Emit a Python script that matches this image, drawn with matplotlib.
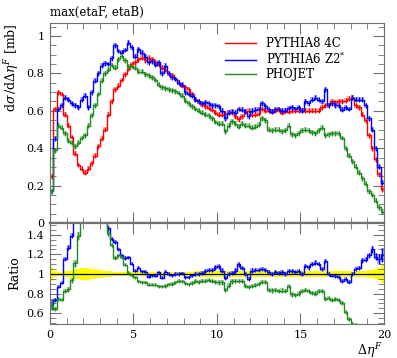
import matplotlib
matplotlib.use("Agg")
import matplotlib.pyplot as plt
import numpy as np
from matplotlib.ticker import MultipleLocator

# bin edges: 100 bins of width 0.2 from 0 to 20
edges = np.linspace(0, 20, 101)

pythia8 = [0.25, 0.61, 0.70, 0.69, 0.58, 0.52, 0.46, 0.37, 0.31, 0.29,
           0.27, 0.29, 0.32, 0.36, 0.41, 0.45, 0.50, 0.58, 0.65, 0.715,
           0.735, 0.765, 0.795, 0.825, 0.85, 0.86, 0.875, 0.885, 0.87, 0.885,
           0.875, 0.86, 0.845, 0.83, 0.82, 0.80, 0.79, 0.77, 0.75, 0.735,
           0.725, 0.715, 0.69, 0.66, 0.65, 0.635, 0.625, 0.615, 0.605, 0.59,
           0.58, 0.58, 0.585, 0.59, 0.59, 0.57, 0.555, 0.57, 0.595, 0.60,
           0.58, 0.58, 0.585, 0.61, 0.60, 0.60, 0.595, 0.60, 0.605, 0.59,
           0.60, 0.595, 0.60, 0.60, 0.60, 0.60, 0.60, 0.60, 0.60, 0.60,
           0.60, 0.62, 0.63, 0.63, 0.65, 0.645, 0.65, 0.65, 0.655, 0.665,
           0.67, 0.63, 0.62, 0.58, 0.55, 0.47, 0.40, 0.34, 0.26, 0.18]

pythia6 = [0.17, 0.45, 0.61, 0.63, 0.67, 0.66, 0.64, 0.63, 0.62, 0.66,
           0.68, 0.62, 0.70, 0.76, 0.80, 0.84, 0.855, 0.85, 0.88, 0.95,
           0.92, 0.91, 0.925, 0.965, 0.94, 0.89, 0.93, 0.91, 0.89, 0.86,
           0.865, 0.845, 0.86, 0.80, 0.84, 0.80, 0.78, 0.77, 0.75, 0.74,
           0.70, 0.69, 0.68, 0.66, 0.65, 0.64, 0.645, 0.64, 0.63, 0.63,
           0.625, 0.60, 0.56, 0.59, 0.595, 0.59, 0.61, 0.605, 0.595, 0.57,
           0.60, 0.605, 0.61, 0.64, 0.625, 0.61, 0.595, 0.61, 0.61, 0.60,
           0.60, 0.615, 0.62, 0.61, 0.62, 0.60, 0.65, 0.64, 0.66, 0.67,
           0.66, 0.65, 0.715, 0.63, 0.64, 0.63, 0.63, 0.605, 0.62, 0.61,
           0.67, 0.66, 0.66, 0.66, 0.63, 0.56, 0.50, 0.40, 0.30, 0.215]

phojet = [0.17, 0.39, 0.52, 0.51, 0.48, 0.44, 0.43, 0.41, 0.43, 0.455,
          0.47, 0.52, 0.575, 0.63, 0.69, 0.76, 0.80, 0.82, 0.845, 0.83,
          0.875, 0.895, 0.87, 0.835, 0.84, 0.83, 0.81, 0.81, 0.795, 0.79,
          0.78, 0.765, 0.74, 0.725, 0.72, 0.715, 0.71, 0.705, 0.695, 0.68,
          0.655, 0.64, 0.625, 0.61, 0.60, 0.59, 0.58, 0.575, 0.56, 0.54,
          0.53, 0.53, 0.49, 0.52, 0.545, 0.53, 0.515, 0.53, 0.52, 0.52,
          0.51, 0.515, 0.525, 0.56, 0.55, 0.50, 0.495, 0.50, 0.50, 0.49,
          0.495, 0.52, 0.475, 0.47, 0.48, 0.495, 0.50, 0.495, 0.485, 0.48,
          0.495, 0.51, 0.47, 0.475, 0.48, 0.48, 0.48, 0.455, 0.40, 0.36,
          0.33, 0.30, 0.27, 0.24, 0.21, 0.17, 0.15, 0.12, 0.085, 0.06]

labels = ["PYTHIA8 4C", "PYTHIA6 Z2$^{*}$", "PHOJET"]
colors = ["#ff0000", "#0000ff", "#1e8c1e"]
stat_err = 0.013  # approximate MC statistical error (mb)
ref_err = 0.017   # error used for the reference band in the ratio

plt.rcParams["font.family"] = ["DejaVu Serif"]
plt.rcParams["mathtext.fontset"] = "dejavuserif"
plt.rcParams["font.size"] = 8

fig = plt.figure(figsize=(3.97, 3.58), dpi=100)
ax = fig.add_axes([0.126, 0.377, 0.841, 0.559])
rax = fig.add_axes([0.126, 0.095, 0.841, 0.282], sharex=ax)

centers = 0.5 * (edges[:-1] + edges[1:])
series = [np.array(pythia8), np.array(pythia6), np.array(phojet)]
ref = series[0]


def draw_hist(a, vals, err, col, label=None):
    v = np.append(vals, vals[-1])
    lo = np.append(vals - err, vals[-1] - err[-1])
    hi = np.append(vals + err, vals[-1] + err[-1])
    a.fill_between(edges, lo, hi, step="post", color=col, alpha=0.35, lw=0)
    a.step(edges, v, where="post", color=col, lw=1.0, label=label)
    a.errorbar(centers, vals, yerr=err, fmt="none", ecolor=col, elinewidth=0.8)


for vals, col, lab in zip(series, colors, labels):
    draw_hist(ax, vals, np.full(len(vals), stat_err), col, lab)

# ratio panel: reference band + ratios to PYTHIA8 4C
ref_rel = ref_err / ref
rax.fill_between(edges, np.append(1 - ref_rel, 1 - ref_rel[-1]),
                 np.append(1 + ref_rel, 1 + ref_rel[-1]),
                 step="post", color="#ffff00", lw=0)
rax.axhline(1.0, color="black", lw=0.9)
for vals, col in zip(series[1:], colors[1:]):
    r = vals / ref
    draw_hist(rax, r, stat_err / vals * r, col)

ax.set_xlim(0, 20)
ax.set_ylim(0, 1.07)
rax.set_ylim(0.49, 1.52)

frame = "#707070"
for a in (ax, rax):
    for s in a.spines.values():
        s.set_color(frame)
    a.tick_params(which="both", direction="in", top=True, right=True,
                  color=frame, labelsize=8, pad=4)
    a.tick_params(which="major", length=8)
    a.tick_params(which="minor", length=4)
    a.xaxis.set_major_locator(MultipleLocator(5))
    a.xaxis.set_minor_locator(MultipleLocator(1))
ax.spines["bottom"].set_linewidth(1.6)
rax.spines["top"].set_linewidth(1.6)

ax.yaxis.set_major_locator(MultipleLocator(0.2))
ax.yaxis.set_minor_locator(MultipleLocator(0.05))
ax.set_yticks([0, 0.2, 0.4, 0.6, 0.8, 1.0])
ax.set_yticklabels(["0", "0.2", "0.4", "0.6", "0.8", "1"])
rax.set_yticks([0.6, 0.8, 1.0, 1.2, 1.4])
rax.set_yticklabels(["0.6", "0.8", "1", "1.2", "1.4"])
rax.yaxis.set_minor_locator(MultipleLocator(0.05))
plt.setp(ax.get_xticklabels(), visible=False)
rax.set_xticks([0, 5, 10, 15, 20])
rax.set_xticklabels(["0", "5", "10", "15", "20"])

ax.set_ylabel(r"$\mathrm{d}\sigma\,/\mathrm{d}\Delta\eta^F$ [mb]", fontsize=9, loc="top")
rax.set_ylabel("Ratio", fontsize=9)
rax.set_xlabel(r"$\Delta\eta^F$", fontsize=9, ha="right")
rax.xaxis.set_label_coords(0.995, -0.165)
ax.set_title("max(etaF, etaB)", fontsize=8.5, loc="left", pad=5)

ax.legend(loc="upper right", frameon=False, fontsize=8.5, handlelength=2.6,
          borderaxespad=0.6, labelspacing=0.1, bbox_to_anchor=(0.92, 0.99))

fig.savefig("out.png", dpi=100)
